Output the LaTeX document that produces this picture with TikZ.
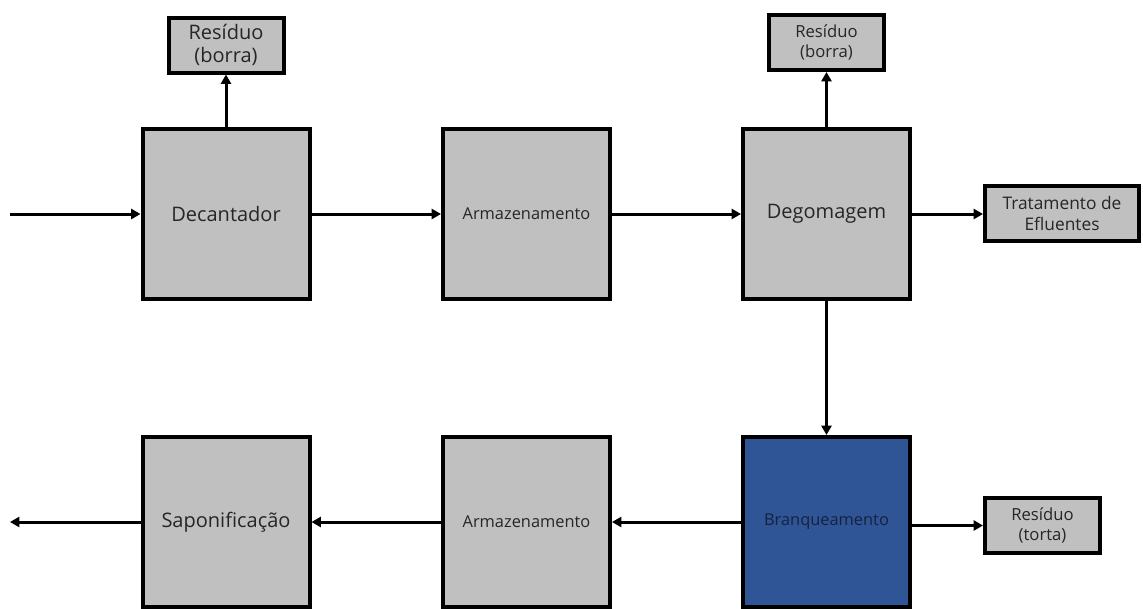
\documentclass[tikz,border=0pt]{standalone}
\usepackage{fontspec}
\setmainfont{Open Sans}
\usetikzlibrary{arrows.meta}
\definecolor{boxgray}{RGB}{192,192,192}
\definecolor{boxblue}{RGB}{47,85,151}
\definecolor{txtdark}{RGB}{38,38,38}
\definecolor{txtnavy}{RGB}{22,34,62}
\begin{document}
\begin{tikzpicture}[x=0.75pt,y=-0.75pt,
  unit/.style={draw=black, line width=3pt, fill=boxgray, text=txtdark,
    minimum width=125.25pt, minimum height=127.5pt, inner sep=0pt, align=center},
  small/.style={draw=black, line width=3pt, fill=boxgray, text=txtdark,
    minimum width=86.25pt, minimum height=41.25pt, inner sep=0pt, align=center,
    font=\fontsize{12.5}{15}\selectfont},
  big/.style={font=\fontsize{15}{18}\selectfont},
  mid/.style={font=\fontsize{12.3}{15}\selectfont},
  flow/.style={line width=2.25pt, -{Triangle[length=7pt,width=7.5pt]}}]
\useasboundingbox (0,0) rectangle (1143,608);

% process units, upper line
\node[unit,big] (dec) at (226,214) {Decantador};
\node[unit,mid] (arm1) at (526.5,214) {Armazenamento};
\node[unit,big] (deg) at (826.5,214) {Degomagem};

% process units, lower line
\node[unit,big] (sap) at (226,522) {Saponificação};
\node[unit,mid] (arm2) at (526.5,522) {Armazenamento};
\node[unit,mid,fill=boxblue,text=txtnavy] (bra) at (826.5,522) {Branqueamento};

% side streams
\node[small,font=\fontsize{15}{17.5}\selectfont] (res1) at (226,45) {Resíduo\\(borra)};
\node[small] (res2) at (826.5,42.5) {Resíduo\\(borra)};
\node[small,minimum width=115.5pt,font=\fontsize{13}{16}\selectfont] (eff) at (1062,213.5) {Tratamento de\\Efluentes};
\node[small] (res3) at (1042.5,525.5) {Resíduo\\(torta)};

\coordinate (in) at (10,214);
\coordinate (out) at (10,522);

% flows
\draw[flow] (in) -- (dec);
\draw[flow] (dec) -- (arm1);
\draw[flow] (arm1) -- (deg);
\draw[flow] (deg) -- (eff.west |- deg);
\draw[flow] (dec.north) -- (res1.south);
\draw[flow] (deg.north) -- (res2.south);
\draw[flow] (deg) -- (bra);
\draw[flow] (bra) -- (arm2);
\draw[flow] (arm2) -- (sap);
\draw[flow] (sap) -- (out);
\draw[flow] (bra.east |- res3) -- (res3);
\end{tikzpicture}
\end{document}
